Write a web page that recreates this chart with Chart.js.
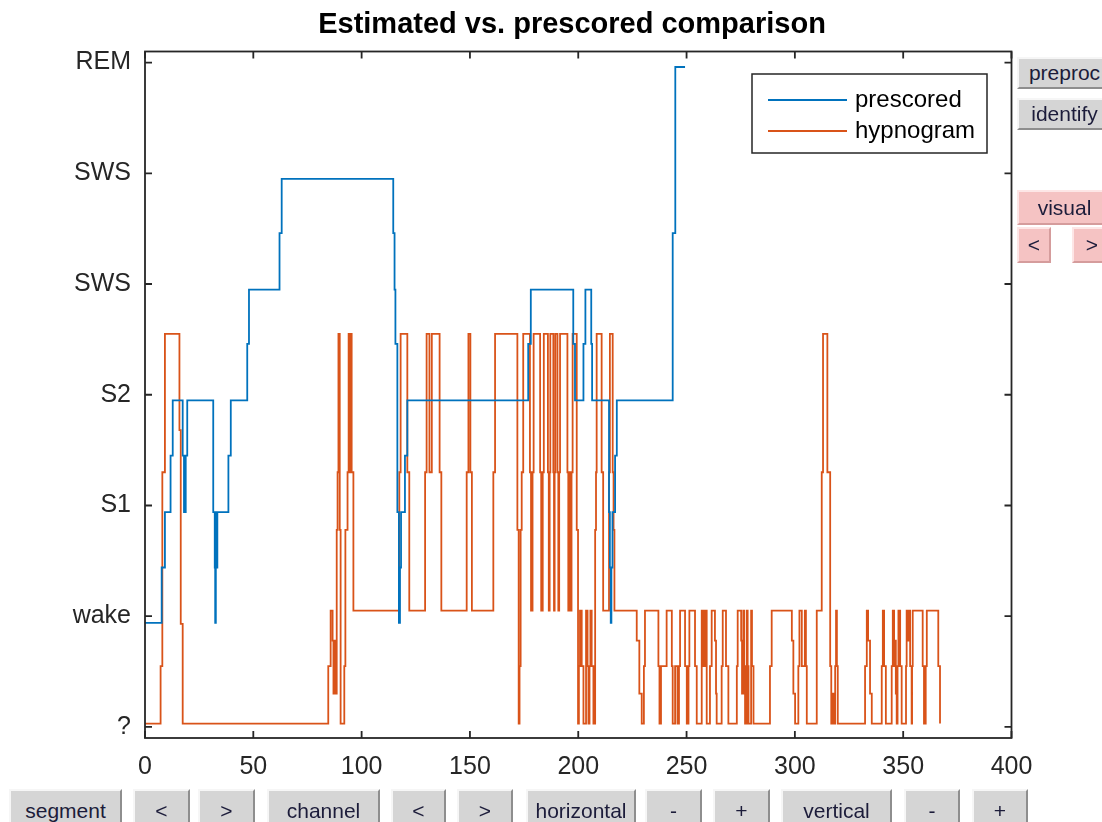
<!DOCTYPE html>
<html>
<head>
<meta charset="utf-8">
<title>Estimated vs. prescored comparison</title>
<script src="https://cdn.jsdelivr.net/npm/chart.js@4.4.1/dist/chart.umd.min.js"></script>
<style>
  body { margin: 0; background: #fff; }
  #wrap { position: relative; width: 1102px; height: 822px; overflow: hidden; font-family: "Liberation Sans", Arial, sans-serif; }
  #plot { position: absolute; left: 0; top: 0; }
  .btn { position: absolute; box-sizing: border-box; background: #d5d5d5; border: 2px solid;
         border-color: #f6f6f6 #8e8e8e #8e8e8e #f6f6f6; color: #1c1c3a; font-size: 21px;
         text-align: center; white-space: nowrap; overflow: hidden; }
  .pink { background: #f5c3c3; border-color: #fde6e6 #d59c9c #d59c9c #fde6e6; }
</style>
</head>
<body>
<div id="wrap">
  <canvas id="plot" width="1102" height="822"></canvas>

  <!-- bottom control row -->
  <div class="btn" style="left:9px;top:789px;width:113px;height:44px;line-height:40px">segment</div>
  <div class="btn" style="left:133px;top:789px;width:57px;height:44px;line-height:40px">&lt;</div>
  <div class="btn" style="left:198px;top:789px;width:57px;height:44px;line-height:40px">&gt;</div>
  <div class="btn" style="left:267px;top:789px;width:113px;height:44px;line-height:40px">channel</div>
  <div class="btn" style="left:391px;top:789px;width:55px;height:44px;line-height:40px">&lt;</div>
  <div class="btn" style="left:457px;top:789px;width:56px;height:44px;line-height:40px">&gt;</div>
  <div class="btn" style="left:526px;top:789px;width:110px;height:44px;line-height:40px">horizontal</div>
  <div class="btn" style="left:645px;top:789px;width:57px;height:44px;line-height:40px">-</div>
  <div class="btn" style="left:713px;top:789px;width:57px;height:44px;line-height:40px">+</div>
  <div class="btn" style="left:781px;top:789px;width:111px;height:44px;line-height:40px">vertical</div>
  <div class="btn" style="left:904px;top:789px;width:56px;height:44px;line-height:40px">-</div>
  <div class="btn" style="left:972px;top:789px;width:56px;height:44px;line-height:40px">+</div>

  <!-- side controls -->
  <div class="btn" style="left:1017px;top:57px;width:95px;height:32px;line-height:28px">preproc</div>
  <div class="btn" style="left:1017px;top:98px;width:95px;height:32px;line-height:28px">identify</div>
  <div class="btn pink" style="left:1017px;top:190px;width:95px;height:35px;line-height:31px">visual</div>
  <div class="btn pink" style="left:1017px;top:227px;width:34px;height:36px;line-height:32px">&lt;</div>
  <div class="btn pink" style="left:1072px;top:227px;width:40px;height:36px;line-height:32px">&gt;</div>
</div>

<script>
// axis ticks
const xTicks = [0, 50, 100, 150, 200, 250, 300, 350, 400];
const stageTicks = [0, 1, 2, 3, 4, 5, 6];
const stageLabels = ['?', 'wake', 'S1', 'S2', 'SWS', 'SWS', 'REM'];

// prescored stages: the value changes to Y at time X
const prescoredX = [0, 7.7, 9.2, 11.8, 12.8, 17.4, 18.0, 18.8, 19.5, 31.5, 32.2, 32.4, 32.7, 33.0, 33.2, 33.4,
  38.5, 39.6, 47.2, 48.0, 62.1, 63.1, 114.6, 115.2, 115.6, 116.5, 117.2, 117.7, 118.2, 120.0, 121.1,
  176.9, 178.1, 197.7, 198.5, 202.4, 203.3, 206.0, 206.4, 214.2, 214.6, 215.0, 215.3, 215.8, 217.0, 217.8,
  243.6, 244.8, 249.3];
const prescoredY = [0.94, 1.44, 1.94, 2.45, 2.95, 2.45, 1.94, 2.45, 2.95, 1.94, 1.44, 0.94, 1.44, 1.94, 1.44, 1.94,
  2.45, 2.95, 3.46, 3.95, 4.46, 4.95, 4.46, 3.95, 3.46, 1.94, 0.94, 1.44, 1.94, 2.45, 2.95,
  3.46, 3.95, 3.46, 2.95, 3.46, 3.95, 3.46, 2.95, 1.94, 1.44, 0.94, 1.44, 1.94, 2.45, 2.95,
  4.46, 5.96, 5.96];

// estimated hypnogram: the value changes to Y at time X
const hypnoX = [0, 7.2, 8.0, 9.2, 15.9, 16.5, 17.4,
  84.6, 85.7, 86.6, 87.0, 87.4, 87.7, 88.5, 88.9, 89.3, 89.9, 90.3, 92.0, 92.5, 93.5, 94.0, 94.6, 94.9, 95.4, 96.2,
  117.4, 118.0, 121.1, 122.0, 129.3, 130.0, 131.3, 132.4, 136.0, 136.8, 148.5, 149.3, 150.2, 150.9,
  160.8, 161.6, 171.9, 172.5, 172.9, 173.4, 173.9, 174.6, 177.7, 178.2, 178.9, 179.4, 182.4, 182.9, 183.6, 184.1,
  186.0, 186.4, 186.8, 187.1, 188.5, 188.8, 189.1, 189.4, 190.4, 190.8, 191.2, 191.6, 195.0, 195.4, 196.2, 196.5,
  196.9, 197.4, 199.3, 199.9, 200.3, 200.8, 201.6, 202.4, 203.6, 204.3, 204.7, 205.2, 205.6, 206.2, 207.0,
  207.8, 208.2, 208.5, 210.8, 211.5, 214.2, 214.6, 215.9, 216.3, 216.7, 227.0, 228.2, 229.3, 230.3, 230.8,
  237.0, 237.5, 238.2, 240.8, 243.2, 243.6, 244.7, 245.8, 246.5, 247.0, 249.3, 250.1, 250.9, 251.3, 253.9, 254.7,
  257.0, 257.8, 258.5, 259.3, 260.8, 261.6, 263.1, 263.6, 263.9, 266.2, 266.7, 268.2, 269.3, 273.2, 273.6,
  275.2, 275.6, 276.2, 276.6, 277.0, 277.8, 278.2, 278.6, 279.8, 280.2, 280.9, 288.5, 289.3, 298.6, 299.3, 300.1,
  301.6, 302.1, 303.2, 304.6, 305.1, 305.5, 310.1, 312.4, 313.0, 315.0, 316.3, 316.8, 317.2, 317.8, 318.6, 319.0,
  319.4, 319.8, 332.4, 333.2, 333.8, 334.7, 335.5, 340.1, 340.6, 341.2, 342.0, 344.7, 345.2, 345.8, 346.2, 346.6,
  347.0, 347.4, 347.8, 348.6, 349.3, 351.3, 351.6, 352.1, 352.5, 353.2, 353.9, 354.1, 354.4, 359.0, 359.6, 360.4,
  360.9, 366.2, 367.0];
const hypnoY = [0.03, 0.55, 2.3, 3.55, 2.68, 0.93, 0.03,
  0.55, 1.05, 0.78, 0.3, 0.78, 0.3, 1.78, 2.3, 3.55, 1.78, 0.03, 0.55, 1.78, 2.3, 3.55, 2.3, 3.55, 2.3, 1.05,
  2.3, 3.55, 2.3, 1.05, 2.3, 3.55, 2.3, 3.55, 2.3, 1.05, 2.3, 3.55, 2.3, 1.05,
  2.3, 3.55, 1.78, 0.03, 0.55, 1.78, 2.3, 3.55, 2.3, 1.05, 2.3, 3.55, 2.3, 1.05, 2.3, 3.55,
  2.3, 1.05, 2.3, 3.55, 2.3, 1.05, 2.3, 3.55, 2.3, 1.05, 2.3, 3.55, 2.3, 1.05, 2.3, 1.05,
  2.3, 3.55, 1.78, 0.03, 0.55, 1.05, 0.55, 0.03, 1.05, 0.55, 0.03, 0.55, 1.05, 0.55, 0.03,
  1.78, 2.3, 3.55, 2.3, 1.05, 2.3, 3.55, 2.3, 1.78, 1.05, 0.78, 0.3, 0.03, 0.55, 1.05,
  0.55, 0.03, 0.55, 1.05, 0.55, 0.03, 0.55, 0.03, 0.55, 1.05, 0.55, 0.03, 0.55, 1.05, 0.55, 0.03,
  1.05, 0.55, 1.05, 0.03, 0.55, 1.05, 0.78, 0.3, 0.03, 0.55, 1.05, 0.55, 0.03, 0.55, 1.05,
  0.78, 0.3, 1.05, 0.55, 0.03, 1.05, 0.55, 0.03, 1.05, 0.55, 0.03, 0.55, 1.05, 0.78, 0.3, 0.03,
  0.55, 1.05, 0.55, 1.05, 0.55, 0.03, 1.05, 2.3, 3.55, 2.3, 0.55, 0.03, 0.3, 0.03, 0.55, 1.05,
  0.55, 0.03, 0.55, 1.05, 0.78, 0.3, 0.03, 0.55, 1.05, 0.55, 0.03, 0.55, 1.05, 0.55, 0.78, 0.3,
  0.03, 0.55, 1.05, 0.55, 0.03, 0.55, 1.05, 0.78, 1.05, 0.55, 0.03, 0.55, 1.05, 0.55, 0.03, 0.55,
  1.05, 0.55, 0.03];

const FONT = '"Liberation Sans", Arial, sans-serif';
const AXIS_COLOR = '#262626';

function toPoints(xs, ys) {
  return xs.map((x, i) => ({ x: x, y: ys[i] }));
}

// title, box with inward ticks on all four sides, legend
const decorations = {
  id: 'decorations',
  afterDatasetsDraw(chart) {
    const ctx = chart.ctx;
    const a = chart.chartArea;
    const xs = chart.scales.x, ys = chart.scales.y;
    ctx.save();

    ctx.strokeStyle = AXIS_COLOR;
    ctx.lineWidth = 1.8;
    ctx.strokeRect(a.left, a.top, a.right - a.left, a.bottom - a.top);

    const tl = 7;
    ctx.beginPath();
    xTicks.forEach(v => {
      const px = xs.getPixelForValue(v);
      ctx.moveTo(px, a.bottom); ctx.lineTo(px, a.bottom - tl);
      ctx.moveTo(px, a.top); ctx.lineTo(px, a.top + tl);
    });
    stageTicks.forEach(v => {
      const py = ys.getPixelForValue(v);
      ctx.moveTo(a.left, py); ctx.lineTo(a.left + tl, py);
      ctx.moveTo(a.right, py); ctx.lineTo(a.right - tl, py);
    });
    ctx.stroke();

    // title
    ctx.fillStyle = '#000';
    ctx.font = 'bold 29px ' + FONT;
    ctx.textAlign = 'center';
    ctx.textBaseline = 'middle';
    ctx.fillText('Estimated vs. prescored comparison', 572, 25);

    // legend
    const lx = 752, ly = 74, lw = 235, lh = 79;
    ctx.fillStyle = '#fff';
    ctx.fillRect(lx, ly, lw, lh);
    ctx.strokeStyle = AXIS_COLOR;
    ctx.lineWidth = 1.5;
    ctx.strokeRect(lx, ly, lw, lh);
    ctx.font = '24px ' + FONT;
    ctx.textAlign = 'left';
    chart.data.datasets.forEach((ds, i) => {
      const y = 100 + i * 31;
      ctx.strokeStyle = ds.borderColor;
      ctx.lineWidth = ds.borderWidth;
      ctx.beginPath();
      ctx.moveTo(768, y); ctx.lineTo(847, y);
      ctx.stroke();
      ctx.fillStyle = '#000';
      ctx.fillText(ds.label, 855, y);
    });
    ctx.restore();
  }
};

new Chart(document.getElementById('plot'), {
  type: 'line',
  data: {
    datasets: [
      {
        label: 'prescored',
        data: toPoints(prescoredX, prescoredY),
        borderColor: '#0072BD',
        borderWidth: 1.8,
        stepped: true,
        pointRadius: 0,
        fill: false,
        borderJoinStyle: 'miter'
      },
      {
        label: 'hypnogram',
        data: toPoints(hypnoX, hypnoY),
        borderColor: '#D95319',
        borderWidth: 1.8,
        stepped: true,
        pointRadius: 0,
        fill: false,
        borderJoinStyle: 'miter'
      }
    ]
  },
  options: {
    responsive: false,
    animation: false,
    layout: { padding: { left: 0, top: 51.5, right: 90.5, bottom: 34 } },
    plugins: {
      legend: { display: false },
      title: { display: false },
      tooltip: { enabled: false }
    },
    scales: {
      x: {
        type: 'linear',
        min: 0,
        max: 400,
        grid: { display: false, drawTicks: false },
        border: { display: false },
        afterBuildTicks: s => { s.ticks = xTicks.map(v => ({ value: v })); },
        afterFit: s => { s.height = 50; s.paddingLeft = 0; s.paddingRight = 0; },
        ticks: {
          autoSkip: false,
          maxRotation: 0,
          padding: 14,
          color: AXIS_COLOR,
          font: { family: FONT, size: 25 }
        }
      },
      y: {
        type: 'linear',
        min: -0.1,
        max: 6.1,
        grid: { display: false, drawTicks: false },
        border: { display: false },
        afterBuildTicks: s => { s.ticks = stageTicks.map(v => ({ value: v })); },
        afterFit: s => { s.width = 145; s.paddingTop = 0; s.paddingBottom = 0; },
        ticks: {
          padding: 14,
          color: AXIS_COLOR,
          font: { family: FONT, size: 25 },
          callback: v => stageLabels[Math.round(v)]
        }
      }
    }
  },
  plugins: [decorations]
});
</script>
</body>
</html>
